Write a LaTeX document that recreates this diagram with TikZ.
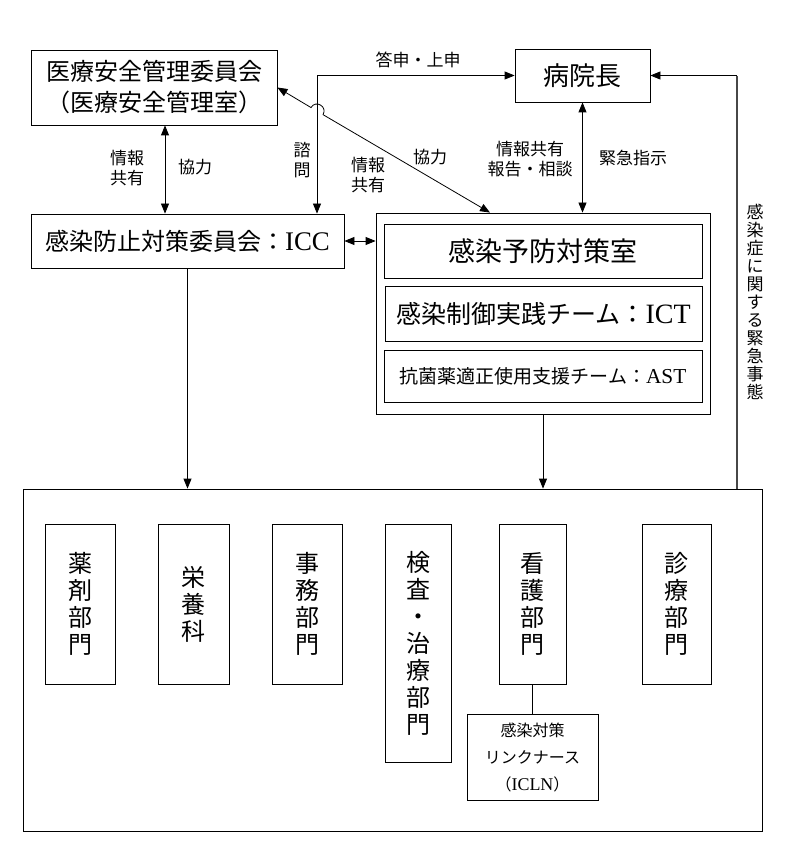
\documentclass[tikz,border=0pt]{standalone}
\usepackage{fontspec}
\setmainfont{Noto Sans CJK JP}
\newfontfamily\lat{Liberation Serif}[Scale=1.12]
\usetikzlibrary{arrows.meta}
\begin{document}
\begin{tikzpicture}[x=1pt,y=-1pt,
  box/.style={draw, line width=0.8pt, inner sep=0pt, align=center},
  lbl/.style={inner sep=0pt, align=center, font=\fontsize{17}{20}\selectfont},
  conn/.style={line width=0.8pt, arrows={Triangle[length=10pt,width=8pt]-Triangle[length=10pt,width=8pt]}},
  conn1/.style={line width=0.8pt, -{Triangle[length=10pt,width=8pt]}},
  dept/.style={box, font=\fontsize{24}{27}\selectfont, minimum height=160pt}]
\useasboundingbox (0,0) rectangle (784,850);

% top boxes
\node[box, minimum width=246pt, minimum height=75pt, font=\fontsize{24}{31}\selectfont] (med) at (154,87.5) {医療安全管理委員会\\（医療安全管理室）};
\node[box, minimum width=135pt, minimum height=53pt, font=\fontsize{26}{30}\selectfont] (dir) at (582.5,75.5) {病院長};
\node[box, minimum width=313pt, minimum height=54pt, font=\fontsize{24}{28}\selectfont] (icc) at (187.5,241) {感染防止対策委員会：{\lat ICC}};

% outer group
\node[box, minimum width=334pt, minimum height=201pt] (outer) at (543,313.5) {};
\node[box, minimum width=318pt, minimum height=54pt, font=\fontsize{27}{30}\selectfont] (in1) at (543,251) {感染予防対策室};
\node[box, minimum width=317pt, minimum height=55pt, font=\fontsize{25}{28}\selectfont] (in2) at (543.5,313.5) {感染制御実践チーム：{\lat ICT}};
\node[box, minimum width=318pt, minimum height=52pt, font=\fontsize{19}{22}\selectfont] (in3) at (543,376) {抗菌薬適正使用支援チーム：{\lat AST}};

% big box
\node[box, minimum width=739pt, minimum height=342pt] (big) at (392.5,660) {};
\node[dept, minimum width=70pt] (d1) at (80,604) {薬\\剤\\部\\門};
\node[dept, minimum width=71pt] (d2) at (193.5,604) {栄\\養\\科};
\node[dept, minimum width=70pt] (d3) at (307,604) {事\\務\\部\\門};
\node[dept, minimum width=66pt, minimum height=238pt] (d4) at (418,643) {検\\査\\・\\治\\療\\部\\門};
\node[dept, minimum width=67pt] (d5) at (532.5,604) {看\\護\\部\\門};
\node[dept, minimum width=69pt] (d6) at (676.5,604) {診\\療\\部\\門};
\node[box, minimum width=131pt, minimum height=86pt, font=\fontsize{16}{27}\selectfont] (icln) at (532.5,757) {感染対策\\リンクナース\\（{\lat ICLN}）};

% labels
\node[lbl] (l1) at (418,60) {答申・上申};
\node[lbl] (l2) at (127,168) {情報\\共有};
\node[lbl] (l3) at (195,167) {協力};
\node[lbl] (l4) at (302,160) {諮\\問};
\node[lbl] (l5) at (368,175) {情報\\共有};
\node[lbl] (l6) at (430,157) {協力};
\node[lbl] (l7) at (530,159) {情報共有\\報告・相談};
\node[lbl] (l8) at (633,158) {緊急指示};
\node[lbl, font=\fontsize{17}{18}\selectfont] (l9) at (755,302) {感\\染\\症\\に\\関\\す\\る\\緊\\急\\事\\態};

% connectors
\draw[conn] ([xshift=11pt]med.south) -- ([xshift=11pt]med.south |- icc.north);
\draw[conn] ([xshift=129.5pt]icc.north) |- (dir.west);
\draw[conn] (dir.south) -- (dir.south |- outer.north);
\draw[conn] (icc.east) -- (icc.east -| outer.west);
\draw[conn1] (icc.south) -- (icc.south |- big.north);
\draw[conn1] (outer.south) -- (outer.south |- big.north);
\coordinate (emc) at ([xshift=344.5pt]big.north |- dir.east);
\draw[draw=black!72, line width=1.8pt] ([xshift=344.5pt]big.north) -- ([yshift=-0.5pt]emc);
\draw[conn1] (emc) -- (dir.east);
\draw[line width=0.8pt] (d5.south) -- (icln.north);
\coordinate (hopA) at (310.97,107.54);
\coordinate (hopB) at (323.03,114.66);
\draw[conn] (med.east) -- (hopA) .. controls (315.71,99.51) and (327.77,106.63) .. (hopB) -- ([xshift=-53pt]outer.north);
\end{tikzpicture}
\end{document}
